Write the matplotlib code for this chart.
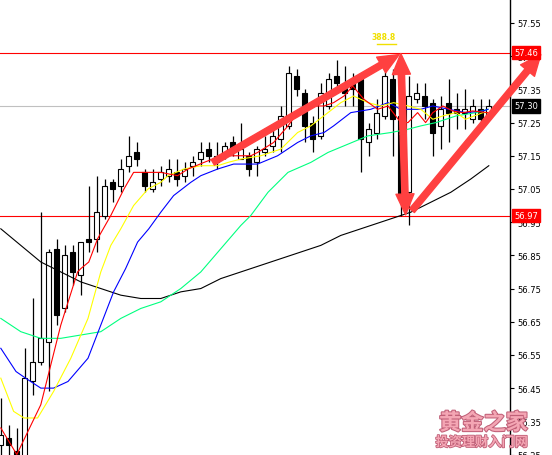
import matplotlib
matplotlib.use("Agg")
import matplotlib.pyplot as plt
from matplotlib.patches import Rectangle, FancyArrowPatch
import matplotlib.patheffects as pe

# OHLC (one candle every 8 px)
opens = [56.28, 56.30, 56.26, 56.23, 56.47, 56.53, 56.59, 56.87, 56.69, 56.86,
         56.79, 56.90, 56.90, 56.97, 57.07, 57.06, 57.12, 57.16, 57.10, 57.05,
         57.08, 57.09, 57.10, 57.09, 57.12, 57.14, 57.17, 57.15, 57.15, 57.19,
         57.14, 57.15, 57.13, 57.16, 57.18, 57.20, 57.24, 57.39, 57.34, 57.25,
         57.21, 57.30, 57.39, 57.36, 57.37, 57.38, 57.19, 57.22, 57.27, 57.38,
         57.27, 57.04, 57.32, 57.33, 57.31, 57.24, 57.31, 57.29, 57.28, 57.26,
         57.29, 57.27]
closes = [56.31, 56.28, 56.25, 56.48, 56.53, 56.60, 56.86, 56.67, 56.85, 56.80,
          56.89, 56.89, 56.98, 57.06, 57.05, 57.11, 57.15, 57.14, 57.06, 57.07,
          57.10, 57.11, 57.08, 57.11, 57.13, 57.16, 57.15, 57.13, 57.18, 57.17,
          57.17, 57.11, 57.17, 57.17, 57.21, 57.27, 57.40, 57.35, 57.24, 57.20,
          57.34, 57.38, 57.37, 57.34, 57.35, 57.20, 57.23, 57.28, 57.39, 57.26,
          57.02, 57.33, 57.34, 57.30, 57.22, 57.29, 57.28, 57.28, 57.29, 57.30,
          57.26, 57.30]
highs = [56.42, 56.34, 56.33, 56.57, 56.72, 56.98, 56.87, 56.90, 56.88, 56.88,
         56.89, 57.06, 57.09, 57.08, 57.08, 57.14, 57.21, 57.19, 57.11, 57.11,
         57.12, 57.14, 57.14, 57.13, 57.15, 57.19, 57.19, 57.19, 57.19, 57.21,
         57.25, 57.16, 57.18, 57.21, 57.24, 57.30, 57.42, 57.41, 57.35, 57.27,
         57.37, 57.40, 57.44, 57.42, 57.40, 57.39, 57.25, 57.32, 57.42, 57.41,
         57.27, 57.39, 57.37, 57.37, 57.32, 57.33, 57.38, 57.34, 57.35, 57.32,
         57.32, 57.32]
lows = [56.22, 56.24, 56.22, 56.22, 56.43, 56.52, 56.44, 56.64, 56.68, 56.76,
        56.73, 56.86, 56.86, 56.96, 57.01, 57.04, 57.10, 57.12, 57.04, 57.04,
        57.06, 57.07, 57.06, 57.07, 57.09, 57.12, 57.13, 57.11, 57.14, 57.15,
        57.14, 57.09, 57.09, 57.15, 57.16, 57.16, 57.23, 57.33, 57.19, 57.16,
        57.20, 57.29, 57.35, 57.30, 57.30, 57.10, 57.15, 57.20, 57.26, 57.15,
        56.97, 56.94, 57.31, 57.26, 57.15, 57.17, 57.19, 57.23, 57.23, 57.25,
        57.25, 57.26]

# moving averages (x in candle units)
ma_red_x = [0, 2, 3.4, 5, 6.25, 7.5, 9.6, 10, 11, 12.1, 13.75, 15.4, 16.6, 18.4, 20,
            22.1, 23.4, 25.4, 27.5, 30, 31.25, 32.1, 34.1, 35.9, 37.1, 38.75, 40.4,
            41.6, 42.9, 44, 45.4, 47.1, 48.4, 50, 50.9, 52.1, 53.1, 54, 55.25, 56.5,
            57.75, 59, 60.9]
ma_red = [56.33, 56.25, 56.32, 56.40, 56.52, 56.64, 56.80, 56.81, 56.83, 56.90,
          56.97, 57.05, 57.10, 57.10, 57.10, 57.09, 57.11, 57.13, 57.15, 57.15,
          57.15, 57.16, 57.19, 57.24, 57.28, 57.30, 57.30, 57.31, 57.33, 57.36,
          57.32, 57.29, 57.30, 57.25, 57.25, 57.28, 57.25, 57.28, 57.30, 57.285,
          57.28, 57.285, 57.28]
ma_yellow_x = [0, 1.6, 2.9, 4.6, 6.6, 8.75, 10.9, 12.5, 13.75, 15, 16.6, 18.4, 20,
               20.9, 22.9, 25, 27.1, 28.4, 30, 32.5, 35, 37.1, 38.75, 40.9, 42.5,
               44.1, 45.9, 47.5, 49.1, 50.9, 52.5, 54, 55.25, 56.9, 58.1, 60.25, 60.9]
ma_yellow = [56.48, 56.38, 56.36, 56.36, 56.44, 56.54, 56.66, 56.80, 56.88, 56.93,
             57.00, 57.05, 57.07, 57.09, 57.11, 57.12, 57.12, 57.13, 57.14, 57.15,
             57.17, 57.22, 57.24, 57.28, 57.31, 57.33, 57.31, 57.30, 57.31, 57.30,
             57.29, 57.26, 57.27, 57.28, 57.26, 57.28, 57.28]
ma_blue_x = [0, 1.9, 3.1, 5, 6.6, 8.4, 10.9, 12.5, 14.1, 15.6, 17.1, 18.5, 20, 21.6,
             23.75, 25, 27.1, 29.1, 32.1, 34.6, 37.1, 38.75, 40.4, 41.6, 43.75, 46.25,
             48.4, 50, 52.5, 54, 56, 58.1, 60.25, 60.9]
ma_blue = [56.57, 56.50, 56.48, 56.45, 56.45, 56.47, 56.54, 56.64, 56.74, 56.81,
           56.89, 56.93, 56.98, 57.03, 57.07, 57.09, 57.11, 57.125, 57.125, 57.15,
           57.19, 57.21, 57.22, 57.24, 57.28, 57.29, 57.31, 57.29, 57.29, 57.30,
           57.29, 57.28, 57.285, 57.29]
ma_green_x = [0, 2.5, 5, 7.5, 10, 12.5, 15, 17.5, 20, 22.5, 25, 27.5, 30, 31.25, 33.4,
              35.9, 38.75, 40.9, 42.9, 45.9, 48.75, 50.9, 52.5, 54.4, 56.9, 59.4, 60.9]
ma_green = [56.66, 56.62, 56.60, 56.60, 56.61, 56.62, 56.66, 56.69, 56.71, 56.75,
            56.80, 56.87, 56.94, 56.97, 57.04, 57.10, 57.13, 57.16, 57.18, 57.21,
            57.22, 57.23, 57.24, 57.25, 57.27, 57.28, 57.29]
ma_black_x = [0, 2.5, 5, 7.5, 10, 12.5, 15, 17.5, 20, 22.5, 25, 27.5, 30, 32.5, 35,
              37.5, 40, 42.5, 45, 47.5, 50, 51.25, 53.75, 56.25, 58.75, 61]
ma_black = [56.93, 56.88, 56.83, 56.80, 56.77, 56.75, 56.73, 56.72, 56.72, 56.74,
            56.75, 56.78, 56.80, 56.82, 56.84, 56.86, 56.88, 56.91, 56.93, 56.95,
            56.97, 56.98, 57.01, 57.04, 57.08, 57.12]

yticks = [57.55, 57.45, 57.35, 57.25, 57.15, 57.05, 56.95, 56.85, 56.75,
          56.65, 56.55, 56.45, 56.35, 56.25]
line_high = 57.46
line_low = 56.97
last_price = 57.30

fig = plt.figure(figsize=(5.52, 4.56), dpi=100)
ax = fig.add_axes([0, 0, 510 / 552, 1])
ax.set_xlim(-0.1, 63.65)
ax.set_ylim(56.2485, 57.6223)

# horizontal levels
ax.axhline(line_high, color="#ff0000", lw=0.8, zorder=1)
ax.axhline(line_low, color="#ff0000", lw=0.8, zorder=1)
ax.axhline(last_price, color="#c0c0c0", lw=0.8, zorder=1)

# candles
for i in range(len(opens)):
    o, c, h, l = opens[i], closes[i], highs[i], lows[i]
    ax.vlines(i, l, h, color="black", lw=0.9, zorder=2)
    if abs(c - o) < 1e-9:
        ax.hlines(o, i - 0.3, i + 0.3, color="black", lw=0.9, zorder=3)
    else:
        fc = "white" if c > o else "black"
        ax.add_patch(Rectangle((i - 0.3, min(o, c)), 0.6, abs(c - o),
                               facecolor=fc, edgecolor="black", lw=0.8, zorder=3))

# moving averages
ax.plot(ma_black_x, ma_black, color="black", lw=0.8, zorder=4)
ax.plot(ma_green_x, ma_green, color="#00ff7f", lw=0.8, zorder=4)
ax.plot(ma_blue_x, ma_blue, color="#0000ff", lw=0.8, zorder=4)
ax.plot(ma_yellow_x, ma_yellow, color="#ffff00", lw=0.8, zorder=4)
ax.plot(ma_red_x, ma_red, color="#ff0000", lw=0.8, zorder=4)

# red arrows
arrow_kw = dict(arrowstyle="simple,head_width=1.3,head_length=1.5,tail_width=0.45",
                mutation_scale=10, color="#ff4040", shrinkA=0, shrinkB=0,
                zorder=6, clip_on=False)
ax.add_patch(FancyArrowPatch((26.5, 57.13), (49.8, 57.455), **arrow_kw))
mid = (50.3, 57.215)
ax.add_patch(FancyArrowPatch(mid, (50.0, 57.458), **arrow_kw))
ax.add_patch(FancyArrowPatch(mid, (50.6, 56.972), **arrow_kw))
ax.add_patch(FancyArrowPatch((51.4, 56.985), (67.5, 57.455), **arrow_kw))

# small yellow label
ax.text(47.9, 57.51, "388.8", color="#f0e000", fontsize=5.5, fontweight="bold",
        ha="center", va="center", zorder=6)
ax.plot([47.0, 49.4], [57.487, 57.487], color="#f0e000", lw=1, zorder=6)

# right price axis
for s in ["top", "left", "bottom"]:
    ax.spines[s].set_visible(False)
ax.spines["right"].set_linewidth(1)
ax.set_xticks([])
ax.yaxis.tick_right()
ax.set_yticks(yticks)
ax.set_yticklabels(["%.2f" % v for v in yticks])
ax.tick_params(axis="y", direction="out", length=3, width=0.8, labelsize=6, pad=2)

tr = ax.get_yaxis_transform()
for val, bg in [(line_high, "#ff0000"), (line_low, "#ff0000"), (last_price, "black")]:
    ax.text(1.008, val, "%.2f" % val, transform=tr, color="white", fontsize=6,
            ha="left", va="center", zorder=7, clip_on=False,
            bbox=dict(boxstyle="square,pad=0.25", fc=bg, ec=bg))

# watermark
fig.text(0.876, 0.070, "黄金之家", fontsize=16, color="#f4a6b4", ha="center",
         va="center", family=["Noto Sans CJK SC", "DejaVu Sans"], fontweight="bold",
         path_effects=[pe.withStroke(linewidth=1.5, foreground="#c06078")])
fig.text(0.873, 0.028, "投资理财入门网", fontsize=9.5, color="#f4a6b4", ha="center",
         va="center", family=["Noto Sans CJK SC", "DejaVu Sans"], fontweight="bold",
         path_effects=[pe.withStroke(linewidth=1.2, foreground="#c06078")])

fig.savefig("out.png", dpi=100, facecolor="white")
